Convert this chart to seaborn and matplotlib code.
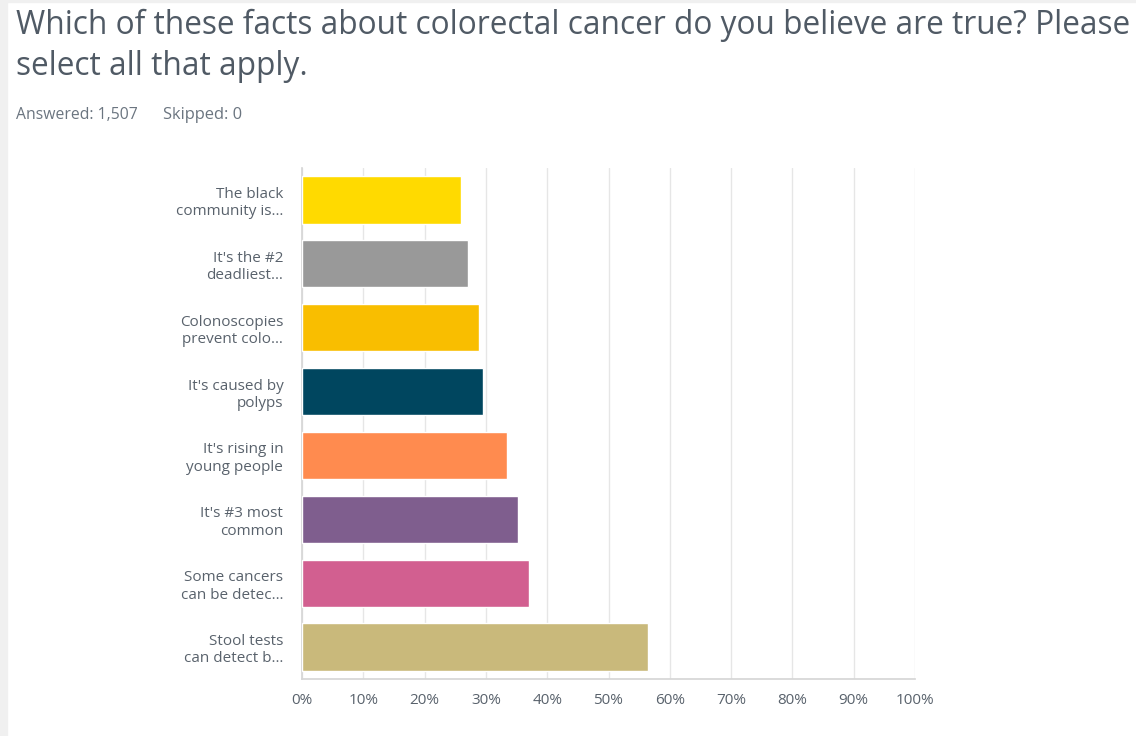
import matplotlib
matplotlib.use("Agg")
import matplotlib.pyplot as plt
import seaborn as sns
import pandas as pd
from matplotlib.patches import Rectangle
from matplotlib.ticker import FuncFormatter

categories = [
    "The black\ncommunity is…",
    "It's the #2\ndeadliest…",
    "Colonoscopies\nprevent colo…",
    "It's caused by\npolyps",
    "It's rising in\nyoung people",
    "It's #3 most\ncommon",
    "Some cancers\ncan be detec…",
    "Stool tests\ncan detect b…",
]
values = [26.0, 27.1, 28.9, 29.5, 33.5, 35.2, 37.0, 56.4]
colors = ["#FFDA00", "#999999", "#F9BE00", "#00465F", "#FF8B4F", "#7F5E8E", "#D25F90", "#C9B97B"]
xticks = [0, 10, 20, 30, 40, 50, 60, 70, 80, 90, 100]
title1 = "Which of these facts about colorectal cancer do you believe are true? Please"
title2 = "select all that apply."
answered = "Answered: 1,507"
skipped = "Skipped: 0"

sns.set_theme(style="white")
plt.rcParams['font.family'] = ['Open Sans', 'DejaVu Sans']

df = pd.DataFrame({"cat": categories, "val": values})

W, H = 1136, 736
fig = plt.figure(figsize=(W / 100, H / 100), dpi=100)
fig.patch.set_facecolor("white")
fig.patches.append(Rectangle((0, 0), 7/W, 1, transform=fig.transFigure, color="#F0F0F0", zorder=0))
fig.patches.append(Rectangle((0, 1 - 2/H), 1, 2/H, transform=fig.transFigure, color="#F0F0F0", zorder=0))

ax = fig.add_axes([302/W, 1 - 679/H, 613/W, 511/H])
sns.barplot(data=df, y="cat", x="val", hue="cat", palette=colors, legend=False,
            width=0.74, ax=ax, saturation=1, zorder=3)

ax.set_xlim(0, 100)
ax.set_ylim(7.5, -0.5)
ax.set_xticks(xticks)
ax.xaxis.set_major_formatter(FuncFormatter(lambda v, p: f"{int(v)}%"))
ax.grid(axis="x", color="#E6E6E6", linewidth=1, zorder=0)
ax.set_axisbelow(True)
ax.set_xlabel("")
ax.set_ylabel("")
for s in ["top", "right"]:
    ax.spines[s].set_visible(False)
ax.spines["left"].set_color("#D6D6D6")
ax.spines["bottom"].set_color("#D6D6D6")
ax.tick_params(axis="x", length=0, pad=10, labelsize=11, labelcolor="#59626C")
ax.tick_params(axis="y", length=0, pad=13.5, labelsize=11, labelcolor="#59626C")
for lbl in ax.get_yticklabels():
    lbl.set_horizontalalignment("right")
    lbl.set_multialignment("right")
    lbl.set_linespacing(1.22)

renderer = fig.canvas.get_renderer()

def fitted_text(x, y, s, target_w, size, **kw):
    t = fig.text(x / W, 1 - y / H, s, fontsize=size, ha="left", va="baseline", **kw)
    w = t.get_window_extent(renderer).width
    t.set_fontsize(size * target_w / w)
    return t

t1 = fitted_text(16, 34, title1, 1112, 20, color="#505A65")
fig.text(16 / W, 1 - 75 / H, title2, fontsize=t1.get_fontsize(), color="#505A65",
         ha="left", va="baseline")
fitted_text(16, 119, answered, 122, 10.5, color="#6B7580")
fitted_text(163, 119, skipped, 80, 10.5, color="#6B7580")

fig.savefig("out.png", dpi=100)
